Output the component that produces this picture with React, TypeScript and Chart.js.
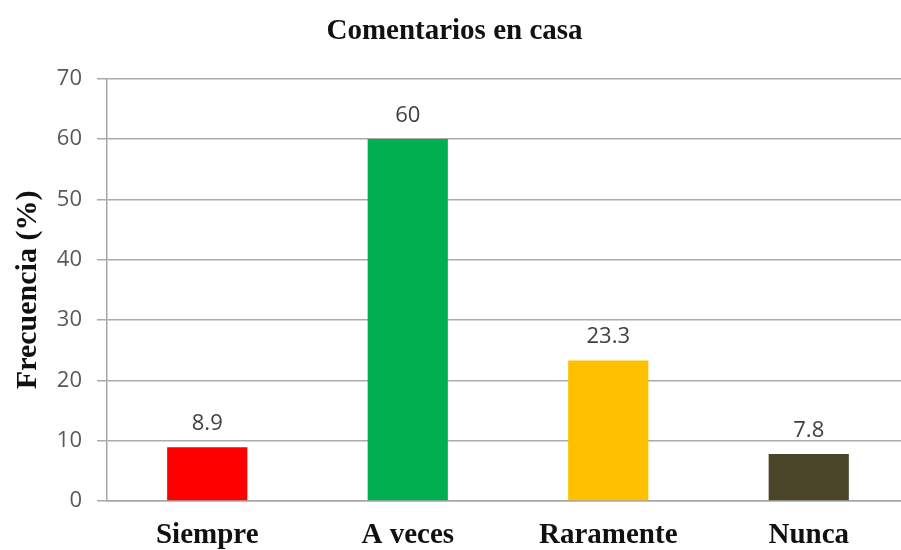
import React, { useEffect, useRef } from "react";
import { Chart, registerables } from "chart.js";

Chart.register(...registerables);

const categories = ["Siempre", "A veces", "Raramente", "Nunca"];
const values = [8.9, 60, 23.3, 7.8];
const barColors = ["#FF0000", "#00B050", "#FFC000", "#4A4529"];
const chartTitle = "Comentarios en casa";
const yAxisTitle = "Frecuencia (%)";
const yMin = 0;
const yMax = 70;
const yStep = 10;

const valueLabelPlugin = {
  id: "valueLabels",
  afterDatasetsDraw(chart: any) {
    const ctx = chart.ctx;
    const meta = chart.getDatasetMeta(0);
    ctx.save();
    ctx.font = "22px 'Open Sans'";
    ctx.fillStyle = "#404040";
    ctx.textAlign = "center";
    ctx.textBaseline = "alphabetic";
    meta.data.forEach((bar: any, i: number) => {
      ctx.fillText(String(values[i]), bar.x, bar.y - 17);
    });
    ctx.restore();
  },
};

export default function App() {
  const ref = useRef<HTMLCanvasElement | null>(null);

  useEffect(() => {
    if (!ref.current) return;
    const chart = new Chart(ref.current, {
      type: "bar",
      data: {
        labels: categories,
        datasets: [
          {
            data: values,
            backgroundColor: barColors,
            borderWidth: 0,
            barPercentage: 0.4,
            categoryPercentage: 1,
          },
        ],
      },
      options: {
        responsive: false,
        animation: false,
        devicePixelRatio: 1,
        layout: { padding: { left: 0, right: 3, top: 0, bottom: 0 } },
        plugins: {
          legend: { display: false },
          tooltip: { enabled: false },
          title: {
            display: true,
            text: chartTitle,
            color: "#111111",
            font: { family: "'Liberation Serif'", size: 29, weight: "bold" },
            padding: { top: 14, bottom: 30 },
          },
        },
        scales: {
          x: {
            grid: { display: false, drawTicks: false },
            border: { display: true, color: "#a6a6a6", width: 1.5 },
            ticks: {
              color: "#111111",
              padding: 17,
              font: { family: "'Liberation Serif'", size: 29, weight: "bold" },
            },
            afterFit(scale: any) {
              scale.height = 49;
            },
          },
          y: {
            min: yMin,
            max: yMax,
            grid: { color: "#ababab", lineWidth: 1.5, tickLength: 10, drawTicks: true },
            border: { display: true, color: "#a6a6a6", width: 1.5 },
            ticks: {
              stepSize: yStep,
              color: "#595959",
              padding: 15,
              font: { family: "'Open Sans'", size: 22 },
            },
            title: {
              display: true,
              text: yAxisTitle,
              color: "#111111",
              padding: { top: 10, bottom: 0 },
              font: { family: "'Liberation Serif'", size: 30, weight: "bold" },
            },
            afterFit(scale: any) {
              scale.width = 107;
            },
          },
        },
      },
      plugins: [valueLabelPlugin],
    });
    return () => chart.destroy();
  }, []);

  return (
    <div
      style={{
        position: "absolute",
        left: 0,
        top: 0,
        width: 901,
        height: 550,
        overflow: "hidden",
        background: "#ffffff",
      }}
    >
      <canvas ref={ref} width={912} height={550} style={{ display: "block" }} />
    </div>
  );
}
